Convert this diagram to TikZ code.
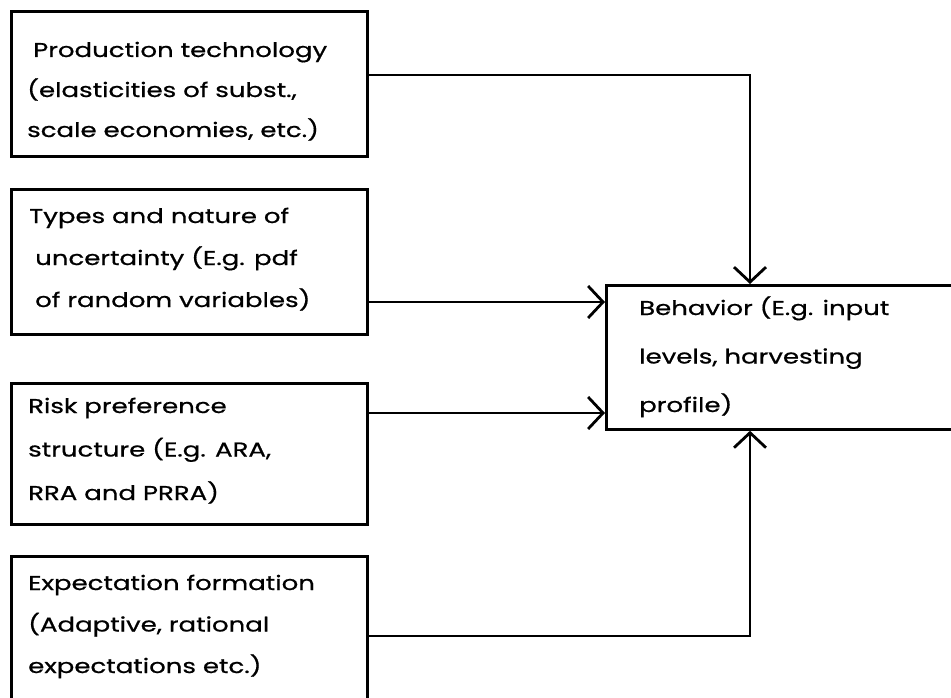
\documentclass[tikz,border=0pt]{standalone}
\usepackage{fontspec}
\setmainfont{Poppins}[FakeStretch=1.3,FakeBold=0.7]
\usetikzlibrary{arrows.meta}
\begin{document}
\begin{tikzpicture}[x=1pt,y=-1pt,
  boxshape/.style={draw, line width=2.8pt, rectangle, inner sep=0pt, anchor=north west},
  txt/.style={anchor=base west, align=left, inner sep=0pt},
  conn/.style={line width=2.8pt},
  tip/.style={-{Straight Barb[length=15pt,width=32pt,line width=2.8pt]}}
]
\useasboundingbox (0,0) rectangle (951,698);
\clip (0,0) rectangle (951,698);
\fill[white] (0,0) rectangle (951,698);
\node[boxshape, minimum width=356pt, minimum height=145pt] (b1) at (10,10) {};
\node[boxshape, minimum width=356pt, minimum height=145pt] (b2) at (10,188) {};
\node[boxshape, minimum width=356pt, minimum height=141pt] (b3) at (10,382) {};
\node[boxshape, minimum width=356pt, minimum height=160pt] (b4) at (10,555) {};
\node[boxshape, minimum width=360pt, minimum height=144pt] (beh) at (605,284) {};

\node[txt, font=\fontsize{20}{40}\selectfont] (t1) at (27,137) {\hspace{6pt}Production technology\\(elasticities of subst.,\\scale economies, etc.)};
\node[txt, font=\fontsize{20}{42}\selectfont] (t2) at (29,307) {Types and nature of\\\hspace{6pt}uncertainty (E.g. pdf\\\hspace{6pt}of random variables)};
\node[txt, font=\fontsize{20}{43.5}\selectfont] (t3) at (28,500) {Risk preference\\structure (E.g. ARA,\\RRA and PRRA)};
\node[txt, font=\fontsize{20}{41.5}\selectfont] (t4) at (28,673) {Expectation formation\\(Adaptive, rational\\expectations etc.)};
\node[txt, font=\fontsize{20}{48.5}\selectfont] (t5) at (639,412) {Behavior (E.g. input\\levels, harvesting\\profile)};

\coordinate (c1) at (750,75);
\coordinate (c2) at (605,302);
\coordinate (c3) at (605,413);
\coordinate (c4) at (750,636);
\draw[conn, tip] (b1.east |- c1) -- (c1) -- (beh.north -| c1);
\draw[conn, tip] (b2.east |- c2) -- (beh.west |- c2);
\draw[conn, tip] (b3.east |- c3) -- (beh.west |- c3);
\draw[conn, tip] (b4.east |- c4) -- (c4) -- (beh.south -| c4);
\end{tikzpicture}
\end{document}
